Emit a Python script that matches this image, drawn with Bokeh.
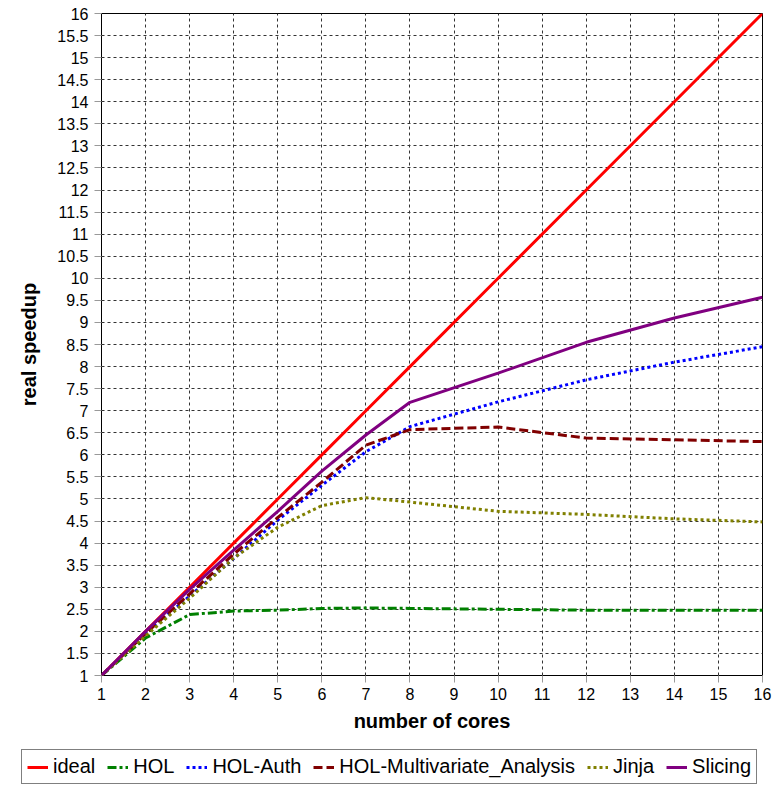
from bokeh.plotting import figure
from bokeh.layouts import column
from bokeh.models import Legend, LegendItem, FixedTicker, NumeralTickFormatter
from bokeh.embed import file_html
from bokeh.resources import INLINE

cores = [1, 2, 3, 4, 5, 6, 7, 8, 10, 12, 14, 16]
ideal = [1, 2, 3, 4, 5, 6, 7, 8, 10, 12, 14, 16]
hol = [1, 1.85, 2.38, 2.46, 2.48, 2.52, 2.53, 2.52, 2.50, 2.48, 2.48, 2.48]
hol_auth = [1, 1.95, 2.8, 3.65, 4.52, 5.31, 6.07, 6.64, 7.2, 7.7, 8.1, 8.45]
hol_mva = [1, 1.95, 2.85, 3.75, 4.58, 5.38, 6.22, 6.57, 6.63, 6.38, 6.34, 6.3]
jinja = [1, 1.9, 2.75, 3.66, 4.36, 4.85, 5.03, 4.93, 4.72, 4.65, 4.55, 4.48]
slicing = [1, 2.0, 2.95, 3.84, 4.72, 5.63, 6.45, 7.19, 7.85, 8.55, 9.1, 9.57]

x_ticks = list(range(1, 17))
y_ticks = [1 + 0.5 * i for i in range(31)]

series = [
    ("ideal", ideal, "#ff0000", "solid"),
    ("HOL", hol, "#008000", "9 3 3 3"),
    ("HOL-Auth", hol_auth, "#0000ff", "3 3"),
    ("HOL-Multivariate_Analysis", hol_mva, "#800000", "9 4"),
    ("Jinja", jinja, "#808000", "3 3"),
    ("Slicing", slicing, "#800080", "solid"),
]

p = figure(width=774, height=745, x_range=(1, 16), y_range=(1, 16),
           output_backend="svg", toolbar_location=None,
           min_border_left=101, min_border_top=13, min_border_right=12, min_border_bottom=70)
p.frame_align = False

p.outline_line_color = "black"
p.outline_line_width = 1
p.background_fill_color = "white"
p.border_fill_color = "white"

for ax in (p.xaxis[0], p.yaxis[0]):
    ax.axis_line_color = None
    ax.major_tick_line_color = "#999999"
    ax.major_tick_out = 7
    ax.major_tick_in = 0
    ax.minor_tick_line_color = None
    ax.major_label_text_font = "Liberation Sans"
    ax.major_label_text_font_size = "16px"
    ax.major_label_text_color = "black"
    ax.axis_label_text_font = "Liberation Sans"
    ax.axis_label_text_font_size = "20px"
    ax.axis_label_text_font_style = "bold"
    ax.axis_label_text_color = "black"

p.xaxis.ticker = FixedTicker(ticks=x_ticks)
p.yaxis.ticker = FixedTicker(ticks=y_ticks)
p.yaxis.formatter = NumeralTickFormatter(format="0.[0]")
p.xaxis.axis_label = "number of cores"
p.yaxis.axis_label = "real speedup"
p.xaxis.major_label_standoff = 5
p.yaxis.major_label_standoff = 6
p.xaxis.axis_label_standoff = 7
p.yaxis.axis_label_standoff = 14

p.xgrid.grid_line_color = "#333333"
p.ygrid.grid_line_color = "#333333"
p.xgrid.grid_line_dash = "3 3"
p.ygrid.grid_line_dash = "3 3"
p.xgrid.grid_line_width = 1
p.ygrid.grid_line_width = 1

for name, ys, color, dash in series:
    p.line(cores, ys, line_color=color, line_width=3, line_dash=dash)

# legend strip below the chart (its lines lie outside its view; only the legend shows)
lf = figure(width=774, height=40, x_range=(-10, -9), y_range=(-10, -9),
            x_axis_type=None, y_axis_type=None,
            output_backend="svg", toolbar_location=None,
            min_border_left=0, min_border_right=0, min_border_top=0, min_border_bottom=0)
lf.frame_align = False
lf.grid.visible = False
lf.outline_line_color = None
lf.background_fill_color = "white"
lf.border_fill_color = "white"

items = []
for name, ys, color, dash in series:
    r = lf.line(cores, ys, line_color=color, line_width=3, line_dash=dash)
    items.append(LegendItem(label=name, renderers=[r]))

legend = Legend(items=items, orientation="horizontal", location=(21, 1))
legend.label_text_font = "Liberation Sans"
legend.label_text_font_size = "20px"
legend.label_text_color = "black"
legend.glyph_width = 21
legend.glyph_height = 20
legend.label_standoff = 5
legend.spacing = 12
legend.padding = 5
legend.margin = 0
legend.border_line_color = "black"
legend.border_line_width = 1
legend.background_fill_alpha = 1
lf.add_layout(legend, "center")

layout = column(p, lf)
open("out.html", "w").write(file_html(layout, INLINE))
